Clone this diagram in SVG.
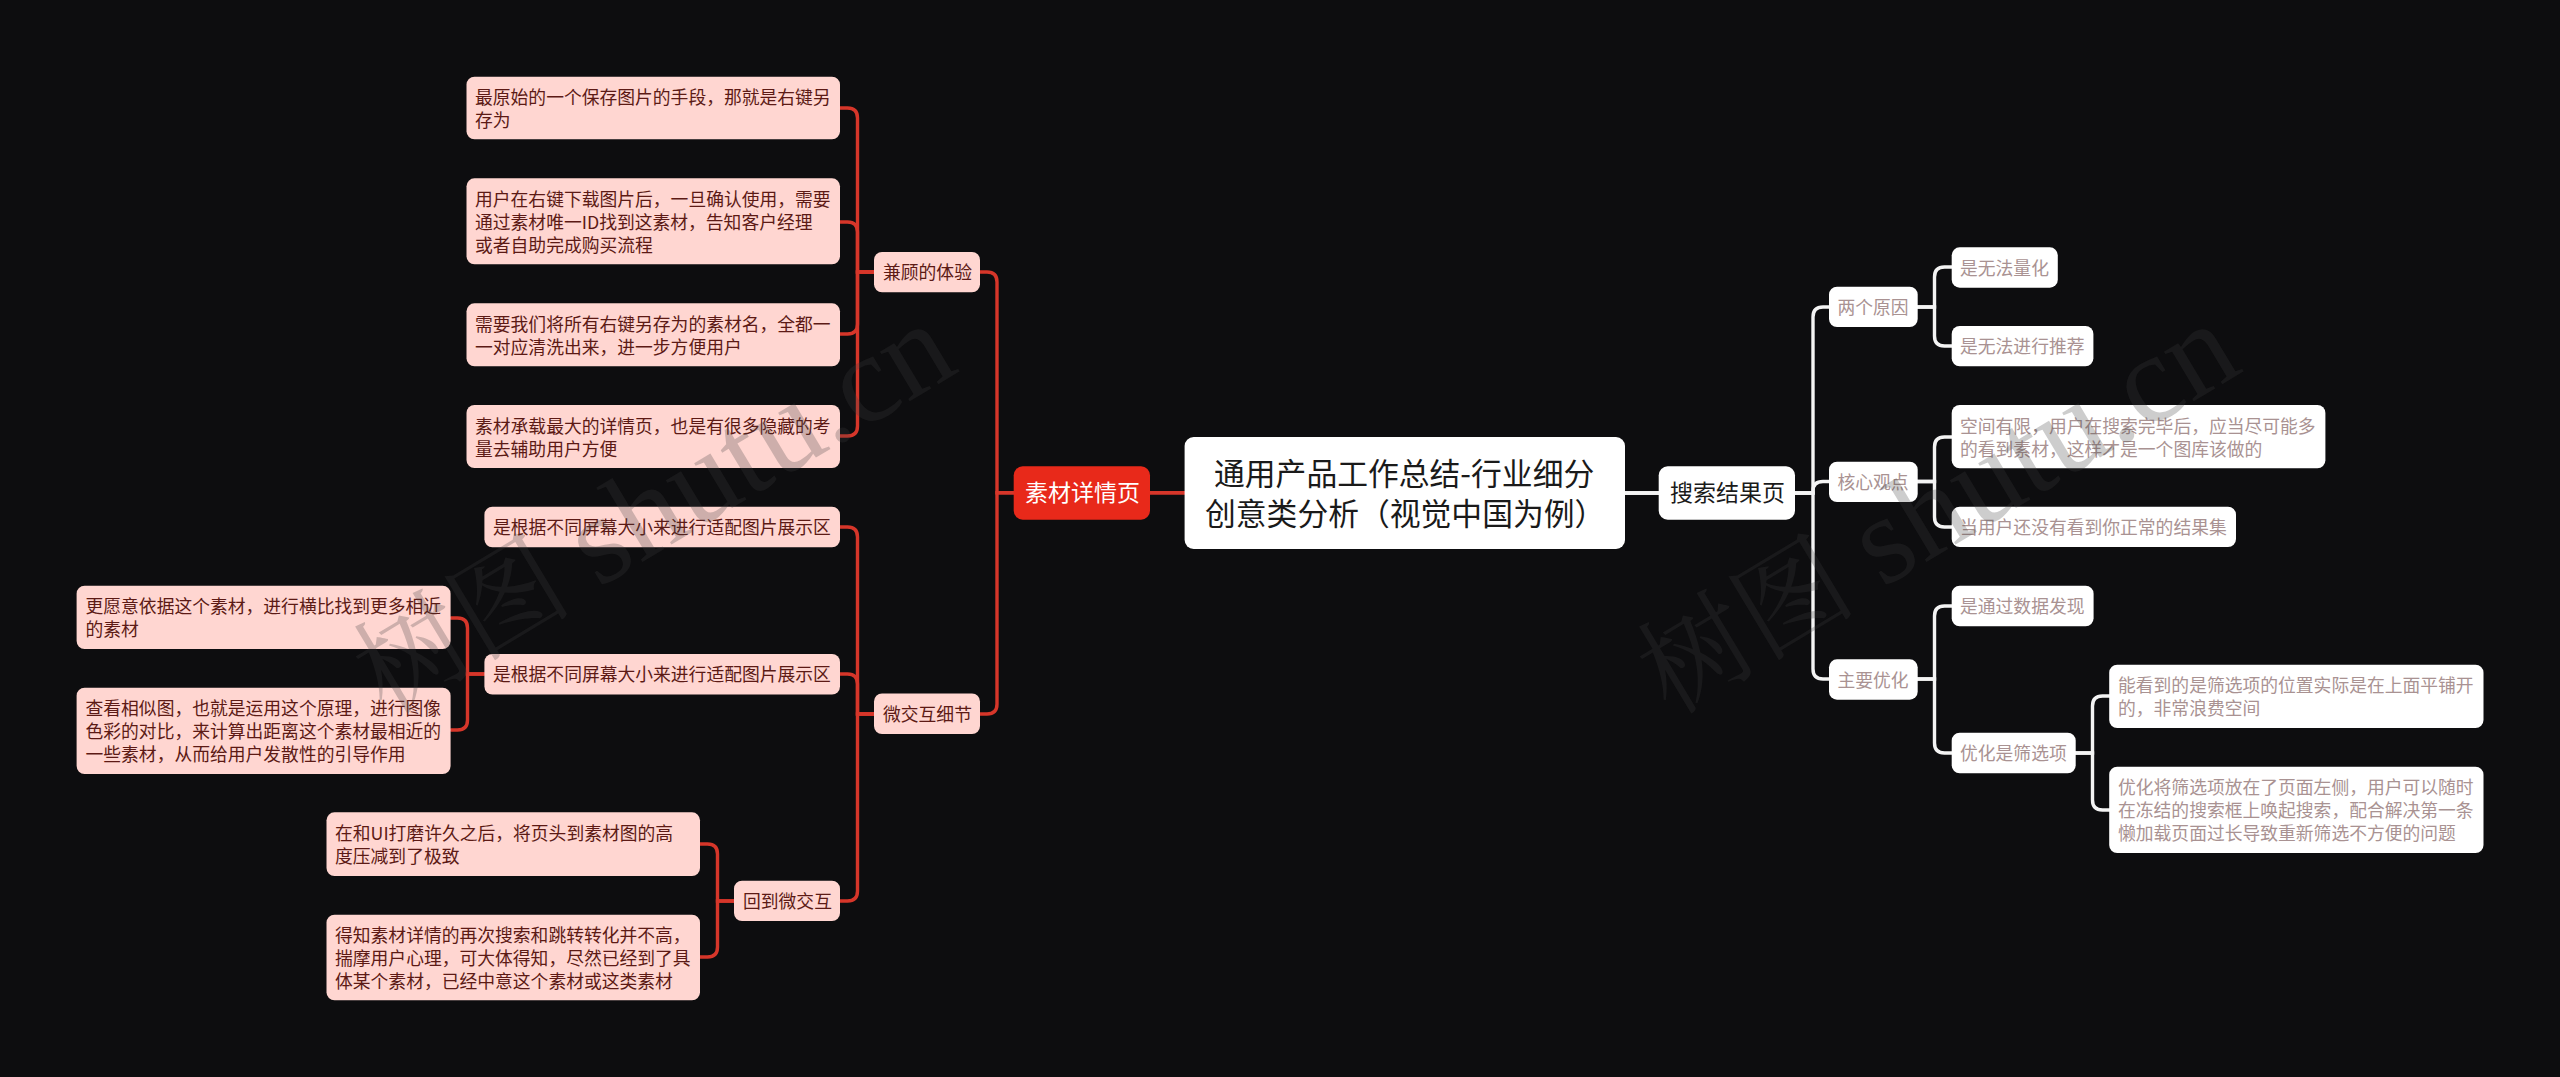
<svg xmlns="http://www.w3.org/2000/svg" width="2560" height="1077" viewBox="0 0 2560 1077">
<style>
text{font-family:"Noto Sans CJK SC","Noto Sans",sans-serif;font-size:17.8px}
.l rect{fill:#ffd6d1}
.l text{fill:#5c1a15}
.r rect{fill:#fff}
.r text{fill:#a99292}
.c{fill:none;stroke-width:3.4;stroke-linecap:round}
.cl{stroke:#d6362a}
.cr{stroke:#f4f4f4}
.wm{font-family:"Liberation Serif","Noto Serif CJK SC","Noto Sans CJK SC",serif;font-size:110px;fill:rgb(63,63,63);fill-opacity:.26}
.wm tspan{font-size:126px}
</style>
<rect id="background" width="2560" height="1077" fill="#0d0d0f"/>
<g id="connectors" class="c">
<g class="cl">
<path d="M1185 492.7H997V282Q997 272 987 272H980"/>
<path d="M1185 492.7H997V704Q997 714 987 714H980"/>
<path d="M874 272H857.5V118Q857.5 108 847.5 108H840"/>
<path d="M874 272H857.5V232Q857.5 222 847.5 222H840"/>
<path d="M874 272H857.5V324Q857.5 334 847.5 334H840"/>
<path d="M874 272H857.5V426Q857.5 436 847.5 436H840"/>
<path d="M874 714H857.5V537Q857.5 527 847.5 527H840"/>
<path d="M874 714H857.5V684Q857.5 674 847.5 674H840"/>
<path d="M874 714H857.5V891Q857.5 901 847.5 901H840"/>
<path d="M484 674H467.5V628Q467.5 618 457.5 618H451"/>
<path d="M484 674H467.5V720Q467.5 730 457.5 730H451"/>
<path d="M734 901H717.5V854Q717.5 844 707.5 844H700"/>
<path d="M734 901H717.5V947Q717.5 957 707.5 957H700"/>
</g>
<g class="cr">
<path d="M1625 493H1813V317Q1813 307 1823 307H1829"/>
<path d="M1625 493H1813V491Q1813 481.5 1823 481.5H1829"/>
<path d="M1625 493H1813V669Q1813 679 1823 679H1829"/>
<path d="M1917 307H1934.5V277Q1934.5 267 1944.5 267H1952"/>
<path d="M1917 307H1934.5V336Q1934.5 346 1944.5 346H1952"/>
<path d="M1917 481.5H1934.5V447Q1934.5 437 1944.5 437H1952"/>
<path d="M1917 481.5H1934.5V517Q1934.5 527 1944.5 527H1952"/>
<path d="M1917 679H1934.5V616Q1934.5 606 1944.5 606H1952"/>
<path d="M1917 679H1934.5V743Q1934.5 753 1944.5 753H1952"/>
<path d="M2075 753H2092.5V706Q2092.5 696 2102.5 696H2110"/>
<path d="M2075 753H2092.5V800Q2092.5 810 2102.5 810H2110"/>
</g>
</g>
<g id="root"><rect x="1184.6" y="437" width="440.4" height="112" rx="9" fill="#fff"/><text x="1214" y="485" style="font-size:30.8px" fill="#1a1a1a">通用产品工作总结-行业细分</text><text x="1205" y="525" style="font-size:30.8px" fill="#1a1a1a">创意类分析（视觉中国为例）</text></g>
<g id="n-sucai"><rect x="1013.7" y="466.3" width="136.3" height="53.4" rx="9" fill="#e8291a"/><text x="1025" y="501" style="font-size:23px" fill="#fff">素材详情页</text></g>
<g id="n-search"><rect x="1658.7" y="466.3" width="136.3" height="53.4" rx="9" fill="#fff"/><text x="1670" y="501" style="font-size:23px" fill="#1a1a1a">搜索结果页</text></g>
<g class="l">
<g id="n-jiangu"><rect x="874" y="252" width="106" height="40.3" rx="8"/><text x="883" y="279">兼顾的体验</text></g>
<g id="n-a1"><rect x="466.5" y="76.7" width="373.5" height="62.6" rx="8"/><text x="475" y="104">最原始的一个保存图片的手段，那就是右键另</text><text x="475" y="127">存为</text></g>
<g id="n-a2"><rect x="466.5" y="178.3" width="373.5" height="86" rx="8"/><text x="475" y="206">用户在右键下载图片后，一旦确认使用，需要</text><text x="475" y="229">通过素材唯一ID找到这素材，告知客户经理</text><text x="475" y="252">或者自助完成购买流程</text></g>
<g id="n-a3"><rect x="466.5" y="303.3" width="373.5" height="63" rx="8"/><text x="475" y="331">需要我们将所有右键另存为的素材名，全都一</text><text x="475" y="354">一对应清洗出来，进一步方便用户</text></g>
<g id="n-a4"><rect x="466.5" y="405" width="373.5" height="63" rx="8"/><text x="475" y="433">素材承载最大的详情页，也是有很多隐藏的考</text><text x="475" y="456">量去辅助用户方便</text></g>
<g id="n-jiaohu"><rect x="874" y="693.5" width="106" height="40.5" rx="8"/><text x="883" y="721">微交互细节</text></g>
<g id="n-b1"><rect x="484.4" y="506.7" width="355.6" height="40.6" rx="8"/><text x="493" y="534">是根据不同屏幕大小来进行适配图片展示区</text></g>
<g id="n-b2"><rect x="484.4" y="654" width="355.6" height="40.5" rx="8"/><text x="493" y="681">是根据不同屏幕大小来进行适配图片展示区</text></g>
<g id="n-b21"><rect x="76.6" y="585.7" width="374" height="63.3" rx="8"/><text x="85.5" y="613">更愿意依据这个素材，进行横比找到更多相近</text><text x="85.5" y="636">的素材</text></g>
<g id="n-b22"><rect x="76.6" y="687.7" width="374" height="86.3" rx="8"/><text x="85.5" y="715">查看相似图，也就是运用这个原理，进行图像</text><text x="85.5" y="738">色彩的对比，来计算出距离这个素材最相近的</text><text x="85.5" y="761">一些素材，从而给用户发散性的引导作用</text></g>
<g id="n-b3"><rect x="734" y="880.7" width="106" height="40.3" rx="8"/><text x="743" y="908">回到微交互</text></g>
<g id="n-b31"><rect x="326.5" y="812.3" width="373.5" height="63.7" rx="8"/><text x="335" y="840">在和UI打磨许久之后，将页头到素材图的高</text><text x="335" y="863">度压减到了极致</text></g>
<g id="n-b32"><rect x="326.5" y="914.7" width="373.5" height="85.6" rx="8"/><text x="335" y="942">得知素材详情的再次搜索和跳转转化并不高，</text><text x="335" y="965">揣摩用户心理，可大体得知，尽然已经到了具</text><text x="335" y="988">体某个素材，已经中意这个素材或这类素材</text></g>
</g>
<g class="r">
<g id="n-c1"><rect x="1829" y="286.7" width="88.7" height="40.3" rx="8"/><text x="1837.5" y="314">两个原因</text></g>
<g id="n-c11"><rect x="1951.7" y="247.3" width="106.1" height="40.4" rx="8"/><text x="1960" y="274.5">是无法量化</text></g>
<g id="n-c12"><rect x="1951.7" y="326" width="141.7" height="40.3" rx="8"/><text x="1960" y="353">是无法进行推荐</text></g>
<g id="n-c2"><rect x="1829" y="461.7" width="88.7" height="40.3" rx="8"/><text x="1837.5" y="489">核心观点</text></g>
<g id="n-c21"><rect x="1951.7" y="405" width="373.7" height="63.3" rx="8"/><text x="1960" y="433">空间有限，用户在搜索完毕后，应当尽可能多</text><text x="1960" y="456">的看到素材，这样才是一个图库该做的</text></g>
<g id="n-c22"><rect x="1951.7" y="506.7" width="284.3" height="40.3" rx="8"/><text x="1960" y="534">当用户还没有看到你正常的结果集</text></g>
<g id="n-c3"><rect x="1829" y="659.3" width="88.7" height="40.4" rx="8"/><text x="1837.5" y="686.5">主要优化</text></g>
<g id="n-c31"><rect x="1951.7" y="585.7" width="141.9" height="40.6" rx="8"/><text x="1960" y="613">是通过数据发现</text></g>
<g id="n-c32"><rect x="1951.7" y="732.7" width="124" height="40.6" rx="8"/><text x="1960" y="760">优化是筛选项</text></g>
<g id="n-c321"><rect x="2109.2" y="664.7" width="374.3" height="63.3" rx="8"/><text x="2118" y="692">能看到的是筛选项的位置实际是在上面平铺开</text><text x="2118" y="715">的，非常浪费空间</text></g>
<g id="n-c322"><rect x="2109.2" y="766.7" width="374.3" height="86.3" rx="8"/><text x="2118" y="794">优化将筛选项放在了页面左侧，用户可以随时</text><text x="2118" y="817">在冻结的搜索框上唤起搜索，配合解决第一条</text><text x="2118" y="840">懒加载页面过长导致重新筛选不方便的问题</text></g>
</g>
<g id="watermarks">
<text class="wm" transform="translate(386,716) rotate(-31)">树图<tspan dx="-4"> shutu.cn</tspan></text>
<text class="wm" transform="translate(1670,716) rotate(-31)">树图<tspan dx="-4"> shutu.cn</tspan></text>
</g>
</svg>
